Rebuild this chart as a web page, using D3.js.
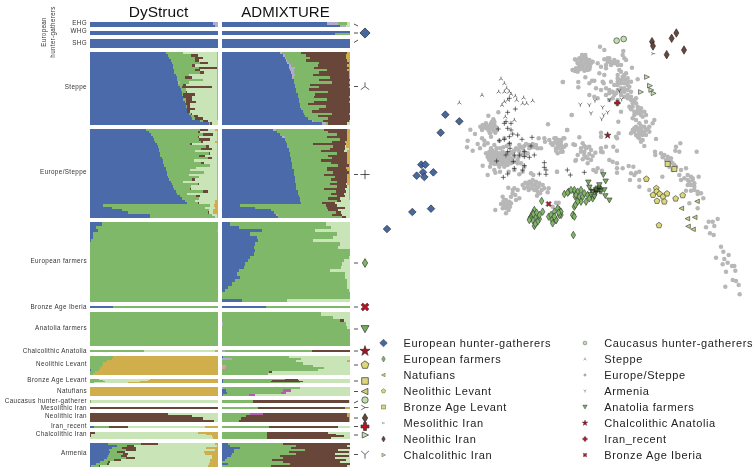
<!DOCTYPE html>
<html><head><meta charset="utf-8">
<script src="https://cdn.jsdelivr.net/npm/d3@7/dist/d3.min.js"></script>
<style>html,body{margin:0;padding:0;background:#fff}svg{display:block;will-change:transform}text{font-family:"Liberation Sans",Arial,sans-serif}</style>
</head><body><svg id="c" width="756" height="468"></svg>
<script>
// ---------- ancestry proportions: [blue, green, brown, light, gold, lilac, magenta, pink] ----------
const dsEHG=[[96,0,0,0,0,4],[98,0,0,0,0,2]];
const adEHG=[[82,7,0,2,0,9],[92,0,0,3,0,5]];
const dsWHG=[[100],[100]];
const adWHG=[[100],[88,12]];
const dsSHG=[[100]];
const adSHG=[[100]];
const dsSteppe=[[59,14,0,26,1],[61,18,5,15,1],[62,20,6,11,1],[63,19,3,14,1],[64,22,6,7,1],[65,15,2,17,1],[65,20,14,0,1],[66,16,4,13,1],[66,20,3,10,1],[67,10,0,22,1],[68,6,6,19,1],[68,20,0,11,1],[69,7,0,22,1,1],[69,4,2,24,1],[70,2,23,4,1],[71,4,0,24,1],[72,3,1,23,1],[72,1,9,17,1],[73,0,7,19,1],[73,2,5,19,1],[74,1,8,16,1],[75,0,3,21,1],[75,1,2,21,1],[76,0,6,17,1],[76,0,2,21,1],[77,2,1,19,1],[79,2,3,15,1],[80,2,6,11,1],[86,2,4,8,0],[93,1,1,5,0]];
const adSteppe=[[45,15,36,0,2,0,0,2],[48,17,31,0,3,1],[49,19,28,0,3,1],[50,15,32,0,2,1],[51,24,23,0,1,1],[52,21,23,0,2,2],[52,15,27,0,1,5],[53,26,16,0,2,3],[54,20,23,0,1,2],[55,14,28,0,1,2],[55,28,15,0,1,1],[56,20,24],[56,30,13,0,1],[57,12,31],[57,19,23,0,1],[58,10,32],[58,25,17],[59,14,27],[59,13,27,0,1],[60,22,18],[60,12,27,0,1],[61,6,33],[61,20,19],[62,14,24],[63,7,30],[64,22,13,0,1],[65,10,25],[67,16,17],[70,8,20,0,1,1],[78,2,15,2,0,3]];
const dsEuSt=[[44,42,6,6,2],[46,38,2,13,1],[48,40,8,3,1],[49,35,1,14,1],[50,35,9,5,1],[51,36,1,10,2],[52,26,2,19,1],[53,38,2,6,1],[54,33,8,4,1],[54,28,0,17,1],[55,38,1,5,1],[55,30,5,9,1],[56,36,3,4,1],[57,24,0,18,1],[57,30,2,10,1],[58,36,0,5,1],[59,24,0,16,1],[59,19,0,21,1],[60,29,0,10,1],[60,17,0,22,1],[61,24,0,14,1],[62,18,2,17,1],[63,10,0,26,1],[64,20,1,14,1],[65,14,0,20,1],[66,12,1,20,1],[67,21,4,7,1],[68,8,0,23,1],[70,13,3,13,1],[72,13,0,14,1],[74,8,0,16,2],[76,8,1,13,2],[10,84,0,3,3],[17,73,0,8,2],[25,68,0,3,4],[30,62,1,3,4],[47,48,0,4,1],[47,51,0,1,1]];
const adEuSt=[[40,38,18,0,2,2],[43,40,15,0,2],[45,45,8,0,2],[47,33,16,0,2,2],[49,43,6,0,2],[50,36,10,0,4],[51,20,26,0,3],[51,36,9,1,3],[52,32,12,3,1],[52,25,18,3,2],[53,37,8,0,2],[53,30,15,0,2],[54,32,12,0,2],[54,23,21,0,2],[55,30,13,0,2],[55,36,8,0,1],[55,27,15,0,3],[56,26,16,0,2],[56,31,12,0,1],[56,24,18,0,2],[57,31,10,0,2],[57,28,13,0,2],[57,33,8,0,2],[58,26,13,1,2],[58,32,8,1,1],[58,22,16,3,1],[59,30,8,2,1],[59,26,10,4,1],[60,30,6,3,1],[61,22,9,7,1],[61,29,3,7],[62,16,10,12],[14,67,9,10],[26,56,14,4],[38,45,8,9],[41,48,4,7],[43,43,8,6,0,0,0,1],[44,50,3,3]];
const dsEF=[[9,91],[5,95],[6,93,0,0,1],[2,98],[2,98],[1,99],[0,100],[0,100],[0,100],[0,100],[0,100],[0,100],[0,100],[0,100],[0,100],[0,100],[0,100],[0,100],[0,100],[0,100],[0,100],[0,100],[0,100],[0,100]];
const adEF=[[6,75,0,19],[13,72,0,15],[31,42,0,27],[22,68,0,10],[27,60,0,13],[28,43,0,29],[26,66,0,8],[25,66,0,9],[26,74],[25,75],[22,77,0,1],[20,75,0,5],[18,76,0,6],[17,76,0,7],[13,71,0,16],[12,84,0,4],[14,82,0,4],[10,88,0,2],[8,90,0,2],[5,93,0,2],[2,97,0,1],[0,100],[0,100],[16,35,0,49]];
const dsIberia=[[18,82]];
const adIberia=[[34,66]];
const dsAnatolia=[[0,100]];
const adAnatolia=[[0,77,0,23],[0,87,0,13],[0,92,3,5],[0,96,0,3,0,1],[0,98,0,2],[0,100],[0,100],[0,100],[0,100],[0,100]];
const dsChalcAn=[[0,42,0,56,2]];
const adChalcAn=[[0,68,30,0,0,2]];
const dsNeoLev=[[0,18,0,0,82],[0,17,0,0,83],[0,13,0,0,87],[0,10,0,0,90],[0,9,0,0,91],[0,8,0,0,92],[1,6,0,0,93],[0,4,0,0,96],[0,2,0,0,98]];
const adNeoLev=[[1,51,0,48],[0,54,0,38,0,8],[0,58,0,40,2],[0,63,0,37],[0,70,0,30,0,0,0,3],[0,79,0,21,0,0,0,2],[0,75,0,25],[0,37,2,61],[0,36,0,64]];
const dsBALev=[[0,7,0,40,53],[0,10,0,35,55],[0,12,0,27,61],[0,3,0,27,70]];
const adBALev=[[1,48,10,41],[1,38,21,40],[1,37,25,37],[1,60,0,39]];
const dsNatufians=[[0,0,0,0,100]];
const adNatufians=[[0,60,0,39,0,1],[3,45,0,46,0,0,6],[4,42,0,50,0,0,4],[1,20,0,74,0,0,5]];
const dsCHG=[[0,1,0,99]];
const adCHG=[[0,24,75,1]];
const dsMesoIran=[[0,0,100]];
const adMesoIran=[[0,28,68,0,4]];
const dsNeoIran=[[0,0,61,39],[0,0,80,20],[0,0,88,12],[0,0,97,3]];
const adNeoIran=[[0,22,66,0,2,0,10],[0,19,79,0,2],[0,15,84,0,1],[0,13,86,0,1]];
const dsIranRecent=[[3,12,15,60,10]];
const adIranRecent=[[0,37,54,9]];
const dsChalcIran=[[0,0,4,80,16],[0,0,1,90,9],[0,0,1,94,5],[0,0,0,96,4]];
const adChalcIran=[[0,35,48,17],[0,35,54,11],[0,35,60,5],[0,35,50,15]];
const dsArmenia=[[14,26,13,45,2],[21,8,5,65,1],[17,8,11,55,9],[15,13,8,62,2],[16,5,6,62,11],[15,11,4,60,10],[14,10,5,66,5],[13,15,7,60,5],[11,8,5,70,6],[8,6,2,78,6],[5,8,2,78,7],[1,6,1,84,8]];
const adArmenia=[[5,43,52],[6,52,40,2],[14,40,46],[9,56,26,9],[9,43,47,1],[8,50,30,12],[7,38,54,1],[4,44,40,12],[2,37,58,3],[0,48,44,8],[5,48,47],[0,38,60,2]];

const groupNames=["EHG","WHG","SHG","Steppe","Europe/Steppe","European farmers","Bronze Age Iberia","Anatolia farmers","Chalcolithic Anatolia","Neolithic Levant","Bronze Age Levant","Natufians","Caucasus hunter-gatherer","Mesolithic Iran","Neolithic Iran","Iran_recent","Chalcolithic Iran","Armenia"];
const groupSizes=[5,4,9,72.5,89.5,79.5,2,34,2,18.5,4.5,8.5,3,2,9,2,7,24];
const dsPanels=[dsEHG,dsWHG,dsSHG,dsSteppe,dsEuSt,dsEF,dsIberia,dsAnatolia,dsChalcAn,dsNeoLev,dsBALev,dsNatufians,dsCHG,dsMesoIran,dsNeoIran,dsIranRecent,dsChalcIran,dsArmenia];
const adPanels=[adEHG,adWHG,adSHG,adSteppe,adEuSt,adEF,adIberia,adAnatolia,adChalcAn,adNeoLev,adBALev,adNatufians,adCHG,adMesoIran,adNeoIran,adIranRecent,adChalcIran,adArmenia];
const compNames=["blue","green","brown","light","gold","lilac","magenta","pink"];
const compOrder=["blue","pink","lilac","green","magenta","brown","light","gold"];
const compColors={blue:"#4a6aa9",green:"#80b869",brown:"#69463a",light:"#c9e4b6",gold:"#cfae4b",lilac:"#b3abcd",magenta:"#b65cb0",pink:"#e39aa8"};

// ---------- PCA coordinates (arbitrary PC units) ----------
const pcGrey=[[597,118],[590,150],[597,153],[561,186],[587,285],[516,313],[574,330],[597,375],[598,422],[337,287],[367,277],[283,329],[297,342],[313,320],[322,322],[330,325],[340,318],[345,310],[352,298],[355,312],[348,325],[338,332],[345,350],[358,338],[360,322],[330,310],[318,330],[355,305],[362,330],[275,362],[273,382],[290,392],[305,372],[318,355],[325,362],[335,370],[312,385],[345,385],[355,375],[370,362],[385,355],[330,400],[340,395],[350,400],[360,395],[370,400],[380,395],[335,410],[345,412],[355,410],[365,412],[375,408],[385,410],[340,420],[350,425],[360,425],[370,420],[380,425],[390,420],[400,405],[410,395],[420,385],[430,375],[440,385],[450,372],[460,385],[470,372],[480,375],[485,385],[445,395],[455,400],[430,395],[415,410],[425,420],[435,430],[445,440],[405,430],[395,435],[385,440],[370,440],[355,450],[342,440],[320,437],[335,465],[358,458],[372,455],[398,455],[415,450],[430,463],[440,455],[465,460],[472,465],[488,355],[505,355],[507,365],[520,360],[535,355],[550,360],[562,355],[495,385],[530,375],[540,385],[550,378],[525,370],[540,365],[565,380],[555,395],[545,400],[570,375],[397,503],[415,505],[425,510],[410,520],[405,530],[430,535],[420,540],[440,495],[450,490],[460,485],[470,480],[480,485],[490,490],[500,495],[455,500],[465,505],[475,510],[485,515],[497,510],[505,505],[518,505],[515,517],[483,527],[380,530],[382,545],[390,540],[400,545],[385,555],[395,555],[405,550],[380,565],[390,565],[398,570],[390,580],[358,570],[540,548],[548,548],[530,560],[543,455],
[672,80],[685,90],[742,93],[740,105],[600,120],[610,115],[620,110],[630,115],[640,120],[605,130],[615,125],[625,130],[635,135],[645,130],[600,145],[610,140],[590,150],[605,155],[620,145],[635,150],[640,148],[665,130],[675,140],[685,118],[695,115],[700,125],[690,135],[705,135],[715,130],[725,125],[745,115],[750,120],[735,135],[690,145],[768,143],[750,160],[735,155],[725,165],[740,170],[755,175],[765,185],[670,160],[685,165],[725,175],[735,180],[745,190],[755,195],[785,178],[560,186],[607,186],[607,202],[628,172],[655,182],[648,182],[640,190],[680,185],[683,190],[705,185],[715,195],[725,195],[735,205],[745,205],[755,210],[765,215],[780,235],[775,240],[765,240],[755,235],[745,230],[735,225],[720,220],[710,215],[700,210],[690,205],[675,210],[660,205],[640,225],[655,230],[665,235],[690,225],[700,240],[710,235],[725,240],[735,275],[760,260],[770,260],[785,260],[795,265],[805,275],[775,275],[785,280],[795,285],[810,285],[770,295],[780,300],[835,300],[830,310],[820,320],[810,305],[790,310],[795,325],[785,330],[775,335],[765,340],[780,345],[790,340],[800,335],[810,330],[820,335],[790,355],[800,360],[805,378],[795,365],[840,357],[727,305],[587,285],[573,330],[610,352],[675,338],[675,350],[720,350],[728,340],[723,355],[540,355],[555,360],[565,355],[545,370],[555,375],[550,385],[540,392],[560,395],[592,373],[620,370],[615,385],[630,385],[640,380],[645,390],[625,395],[615,395],[605,405],[625,405],[635,415],[645,420],[635,430],[600,420],[658,398],[675,385],[690,380],[712,380],[723,392],[675,395],[680,397],[700,420],[710,425],[723,430],[723,445],[723,458],[740,445],[758,438],[772,440],[780,458],[790,455],[765,460],[775,465],[762,480],[790,480],[790,500],[665,445],[652,450],[660,455],[678,452],[543,455],
[837,395],[838,405],[855,400],[865,405],[875,410],[885,415],[860,412],[870,420],[890,430],[900,440],[910,395],[898,392],[913,370],[900,380],[962,395],[915,450],[930,445],[910,465],[925,475],[935,465],[945,470],[950,480],[940,485],[955,490],[955,500],[965,515],[975,520],[968,470],[915,480],[930,512],[945,512],[982,535],[940,550],[965,565],[859,470],[820,510],[1010,605],[998,605],[1025,597],[1015,618],[990,622],[1002,640],[1013,645],[1035,680],[1042,695],[1058,705],[1020,713],[1045,717],[1055,728],[1040,733],[1068,738],[1075,738],[1078,752],[1050,755],[1070,780],[1080,783],[1088,795],[1048,800],[1091,823]];
const pcGreyDense=[[320,315],[330,318],[338,325],[348,305],[350,318],[342,340],[352,332],[335,402],[345,403],[355,403],[365,403],[375,402],[385,402],[395,400],[405,398],[415,392],[425,388],[338,415],[348,418],[358,418],[368,418],[378,418],[388,415],[398,415],[408,415],[345,430],[355,432],[365,432],[375,432],[385,432],[395,425],[405,422],[415,425],[425,430],[438,405],[428,410],[448,405],[458,375],[468,382],[478,382],[445,378],[435,382],[325,375],[350,392],[362,385],[372,385],[382,382],[392,378],[402,372],[448,488],[458,492],[468,492],[478,495],[488,500],[445,505],[458,510],[470,498],[482,505],[492,520],[410,510],[418,525],[388,548],[398,548],[392,558],[402,560],[385,540],[375,552],[535,368],[545,375],[558,385],[555,365],
[612,118],[622,118],[632,125],[642,125],[612,135],[622,135],[632,142],[642,140],[650,125],[612,148],[625,152],[618,105],[628,105],[695,125],[705,125],[715,120],[700,115],[725,135],[730,150],[745,165],[745,178],[735,190],[725,185],[755,185],[760,200],[745,215],[755,225],[765,230],[735,215],[725,210],[715,225],[700,220],[770,250],[780,250],[765,268],[785,270],[795,275],[800,290],[775,285],[785,325],[795,318],[805,320],[780,320],[775,325],[790,345],[800,345],[810,345],[785,350],[770,330],[815,328],[795,335],[805,335],[790,335],[635,382],[625,378],[640,402],[650,408],[630,412],[620,418],[860,405],[875,420],[885,425],[895,435],[880,440],[890,450],[935,480],[945,495],[955,510],[965,522],[935,495],[950,475]];
const pcEHG=[[208,284],[250,304],[194,338],[136,434],[148,434],[172,457],[141,457],[122,467],[145,471],[165,566],[109,576],[33,627]];
const pcEF=[[497,543],[500,575],[475,570],[470,580],[465,590],[480,590],[490,597],[470,600],[485,605],[475,618],[462,595],[518,590],[525,585],[528,600],[540,600],[535,575],[550,570],[555,585],[565,522],[578,515],[595,515],[598,530],[595,560],[592,585],[592,645],[575,518],[595,510],[605,515],[615,510],[600,525],[610,530],[620,530],[630,545],[615,545],[605,545],[598,555],[590,585],[595,590],[650,535],[645,525],[670,500],[662,510],[555,575],[550,585],[545,565],[540,600],[472,582],[482,578],[460,600],[478,612],[490,585],[535,590],[530,610],[548,578],[625,520],[635,525],[640,535],[585,510],[655,525]];
const pcSteppe=[[375,176],[385,190],[392,205],[368,215],[385,215],[400,215],[318,225],[250,248],[418,228],[443,233],[470,242],[452,250],[440,250],[422,240],[395,240],[385,245],[378,255],[405,222],[415,300],[388,290]];
const pcEuSt=[[400,235],[418,267],[395,277],[390,305],[385,310],[405,310],[367,327],[395,325],[405,330],[410,342],[425,345],[400,350],[385,358],[370,362],[438,358],[468,352],[400,370],[465,378],[445,395],[402,385],[395,395],[390,405],[415,405],[430,405],[445,410],[460,412],[475,405],[362,423],[412,425],[445,437],[415,445],[440,450],[395,462],[382,472],[505,428],[505,442],[510,450],[490,462],[510,463],[574,450],[583,465],[625,457],[655,510],[665,505],[670,515],[660,515],[675,505],[645,510]];
const pcArmenia=[[730,213],[700,240],[737,238],[657,242],[613,254],[640,255],[680,262],[645,280],[695,277],[683,285],[677,297]];
const pcMesoIran=[[832,101]];
const pcCHG=[[722,62],[743,57]];
const pcNeoIran=[[828,65],[831,78],[887,55],[901,39],[872,104],[924,90]];
const pcChalcIran=[[812,171],[821,197],[794,216],[825,210],[832,220]];
const pcIranRecent=[[724,249]];
const pcChalcAn=[[695,346]];
const pcIberia=[[518,552]];
const pcBALev=[[875,432],[895,447]];
const pcNeoLev=[[811,477],[841,505],[842,515],[831,525],[851,522],[861,530],[873,521],[843,543],[865,545],[899,536],[920,526],[849,616]];
const pcNatufians=[[964,544],[917,565],[935,596],[957,592],[937,619],[952,628]];
const pcAnatolia=[[682,465],[689,484],[637,487],[640,502],[670,495],[665,505],[650,515],[660,510],[675,515],[685,510],[688,528],[700,541],[645,525],[655,530]];

const legendCol1=["European hunter-gatherers","European farmers","Natufians","Neolithic Levant","Bronze Age Levant","Mesolithic Iran","Neolithic Iran","Chalcolithic Iran"];
const legendCol2=["Caucasus hunter-gatherers","Steppe","Europe/Steppe","Armenia","Anatolia farmers","Chalcolithic Anatolia","Iran_recent","Bronze Age Iberia"];

// ---------- shapes ----------
function poly(pts){return {draw(ctx,size){const r=Math.sqrt(size);pts.forEach((p,i)=>{i?ctx.lineTo(p[0]*r,p[1]*r):ctx.moveTo(p[0]*r,p[1]*r);});ctx.closePath();}};}
function spokes(list){return {draw(ctx,size){const r=Math.sqrt(size);list.forEach(p=>{ctx.moveTo(0,0);ctx.lineTo(p[0]*r,p[1]*r);});}};}
const shapes={
 diamond:poly([[0,-.75],[.75,0],[0,.75],[-.75,0]]),
 thin:poly([[0,-.8],[.48,0],[0,.8],[-.48,0]]),
 left:poly([[-.65,0],[.5,-.55],[.5,.55]]),
 right:poly([[.65,0],[-.5,-.55],[-.5,.55]]),
 down:poly([[0,.6],[-.65,-.55],[.65,-.55]]),
 square:poly([[-.5,-.5],[.5,-.5],[.5,.5],[-.5,.5]]),
 circle:d3.symbolCircle,
 star:d3.symbolStar,
 up3:spokes([[0,-.6],[-.6,.45],[.6,.45]]),
 y3:spokes([[0,.6],[-.55,-.5],[.55,-.5]]),
 side3:spokes([[-.65,-.4],[-.65,.4],[.6,0]]),
 plus:{draw(ctx,size){const r=Math.sqrt(size)*.65;ctx.moveTo(-r,0);ctx.lineTo(r,0);ctx.moveTo(0,-r);ctx.lineTo(0,r);}},
 fatplus:poly([[-.22,-.6],[.22,-.6],[.22,-.22],[.6,-.22],[.6,.22],[.22,.22],[.22,.6],[-.22,.6],[-.22,.22],[-.6,.22],[-.6,-.22],[-.22,-.22]]),
 x:poly([[-.55,-.3],[-.3,-.55],[0,-.25],[.3,-.55],[.55,-.3],[.25,0],[.55,.3],[.3,.55],[0,.25],[-.3,.55],[-.55,.3],[-.25,0]])
};
shapes.pentagon={draw(ctx,size){const r=Math.sqrt(size)*.65;for(let i=0;i<5;i++){const a=-Math.PI/2+i*2*Math.PI/5;const x=r*Math.cos(a),y=r*Math.sin(a);i?ctx.lineTo(x,y):ctx.moveTo(x,y);}ctx.closePath();}};
const styles={
 EHG:{s:"diamond",f:"#46689f",st:"#222"},EF:{s:"thin",f:"#7fb865",st:"#333"},Nat:{s:"left",f:"#cdd27d",st:"#333"},NL:{s:"pentagon",f:"#dcd777",st:"#333"},
 BAL:{s:"square",f:"#d9d67b",st:"#333"},Meso:{s:"side3",f:"none",st:"#333"},NI:{s:"thin",f:"#69463a",st:"#222"},CI:{s:"right",f:"#c2e0ac",st:"#333"},
 CHG:{s:"circle",f:"#c2e0ac",st:"#333"},St:{s:"up3",f:"none",st:"#222"},ES:{s:"plus",f:"none",st:"#111"},Arm:{s:"y3",f:"none",st:"#222"},
 AF:{s:"down",f:"#78ad5e",st:"#333"},CA:{s:"star",f:"#a31220",st:"#333"},IR:{s:"fatplus",f:"#c0101f",st:"#333"},BI:{s:"x",f:"#c0101f",st:"#333"}};
function marker(sel,key,size,x,y,sw){const t=styles[key];
 sel.append("path").attr("d",d3.symbol().type(shapes[t.s]).size(size)()).attr("transform",`translate(${x},${y})`).attr("fill",t.f).attr("stroke",t.st).attr("stroke-width",sw);}

// ---------- bar panels ----------
const svg=d3.select("#c");
const stack=d3.stack().keys(compOrder).value((r,k)=>r[compNames.indexOf(k)]||0).offset(d3.stackOffsetExpand);
const xPanels=[d3.scaleLinear().domain([0,1]).range([90,218]),d3.scaleLinear().domain([0,1]).range([222,350])];
const total=d3.sum(groupSizes), gap=4;
const yScale=d3.scaleLinear().domain([0,total]).range([22,467-gap*(groupSizes.length-1)]);
const tops=[];groupSizes.reduce((a,s,i)=>{tops[i]=yScale(a)+gap*i;return a+s;},0);

[dsPanels,adPanels].forEach((panel,pi)=>{
 const g=svg.append("g");const x=xPanels[pi];
 panel.forEach((rows,i)=>{
  const h=yScale(groupSizes[i])-yScale(0);
  const yb=d3.scaleBand().domain(d3.range(rows.length)).range([tops[i],tops[i]+h]);
  stack(rows).forEach(layer=>{
   g.selectAll(null).data(layer).join("rect")
    .attr("x",d=>x(d[0])).attr("width",d=>Math.max(0,x(d[1])-x(d[0])))
    .attr("y",(d,j)=>yb(j)).attr("height",yb.bandwidth())
    .attr("fill",compColors[layer.key]).attr("shape-rendering","crispEdges");
  });
 });
});

// titles
svg.append("text").attr("x",158.5).attr("y",17).attr("text-anchor","middle").attr("font-size",15.5).attr("fill","#111").text("DyStruct");
svg.append("text").attr("x",285.5).attr("y",17).attr("text-anchor","middle").attr("font-size",15).attr("fill","#111").text("ADMIXTURE");

// group labels
const labelY=[22.5,31,42.5,86.5,172,261,307,328,351,364,380,391,401,408,416,426,433.5,453];
groupNames.forEach((n,i)=>{
 svg.append("text").attr("x",87).attr("y",labelY[i]+2.2).attr("text-anchor","end").attr("font-size",6.3).attr("letter-spacing",.38).attr("fill","#333").text(n);
});
const rotG=svg.append("g").attr("transform","translate(46,32) rotate(-90)").attr("font-size",6.3).attr("letter-spacing",.3).attr("fill","#333").attr("text-anchor","middle");
rotG.append("text").attr("y",0).text("European");
rotG.append("text").attr("y",8.6).text("hunter-gatherers");

// connectors and side markers
const ticks=[[24,26],[33,33],[42.5,40],[86.5,86.5],[174.5,174.5],[263,263],[307,307],[329,329],[351,351],[365,365],[381,381],[391.5,391.5],[403,401],[407.5,407.5],[418,418],[426.5,426.5],[435,435],[454.5,454.5]];
ticks.forEach(t=>svg.append("line").attr("x1",354).attr("x2",358).attr("y1",t[0]).attr("y2",t[1]).attr("stroke","#222").attr("stroke-width",.8));
[["EHG",33,46],["St",86.5,50],["ES",174.5,50],["EF",263,30],["BI",307,50],["AF",329,38],["CA",351,32],["NL",365,40],["BAL",381,44],["Nat",391.5,34],["CHG",400,32],["Meso",407.5,34],["NI",418,30],["IR",426.5,44],["CI",435,30],["Arm",454.5,50]]
 .forEach(m=>marker(svg,m[0],m[2],365,m[1],.7));

// scatter
const px=d3.scaleLinear().domain([0,1140]).range([376,756]);
const py=d3.scaleLinear().domain([0,900]).range([20,320]);
svg.append("g").selectAll("circle").data(pcGrey.concat(pcGreyDense)).join("circle").attr("cx",d=>px(d[0])).attr("cy",d=>py(d[1])).attr("r",2.25).attr("fill","#b7b7b7");
[[pcEF,"EF",22],[pcAnatolia,"AF",18],[pcNeoLev,"NL",22],[pcNatufians,"Nat",16],[pcBALev,"BAL",26],[pcChalcIran,"CI",18],[pcCHG,"CHG",26],[pcNeoIran,"NI",28],[pcEHG,"EHG",26],[pcSteppe,"St",12],[pcEuSt,"ES",14],[pcArmenia,"Arm",12],[pcMesoIran,"Meso",10],[pcChalcAn,"CA",14],[pcIranRecent,"IR",22],[pcIberia,"BI",22]]
 .forEach(([pts,key,size])=>{const sel=svg.append("g");pts.forEach(p=>marker(sel,key,size,px(p[0]),py(p[1]),.6));});

// legend
const legY=d3.scaleLinear().domain([0,7]).range([343,455]);
const keys1=["EHG","EF","Nat","NL","BAL","Meso","NI","CI"],keys2=["CHG","St","ES","Arm","AF","CA","IR","BI"];
const lsz={EHG:26,EF:14,Nat:10,NL:12,BAL:16,Meso:6,NI:14,CI:10,CHG:11,St:6,ES:6,Arm:6,AF:12,CA:10,IR:14,BI:12};
[[legendCol1,keys1,383.5,403.5],[legendCol2,keys2,585,604.3]].forEach(([names,keys,mx,tx])=>{
 names.forEach((n,i)=>{
  marker(svg,keys[i],lsz[keys[i]],mx,legY(i),.4);
  svg.append("text").attr("x",tx).attr("y",legY(i)+3.8).attr("font-size",11).attr("letter-spacing",.62).attr("fill","#222").text(n);
 });
});
</script></body></html>
